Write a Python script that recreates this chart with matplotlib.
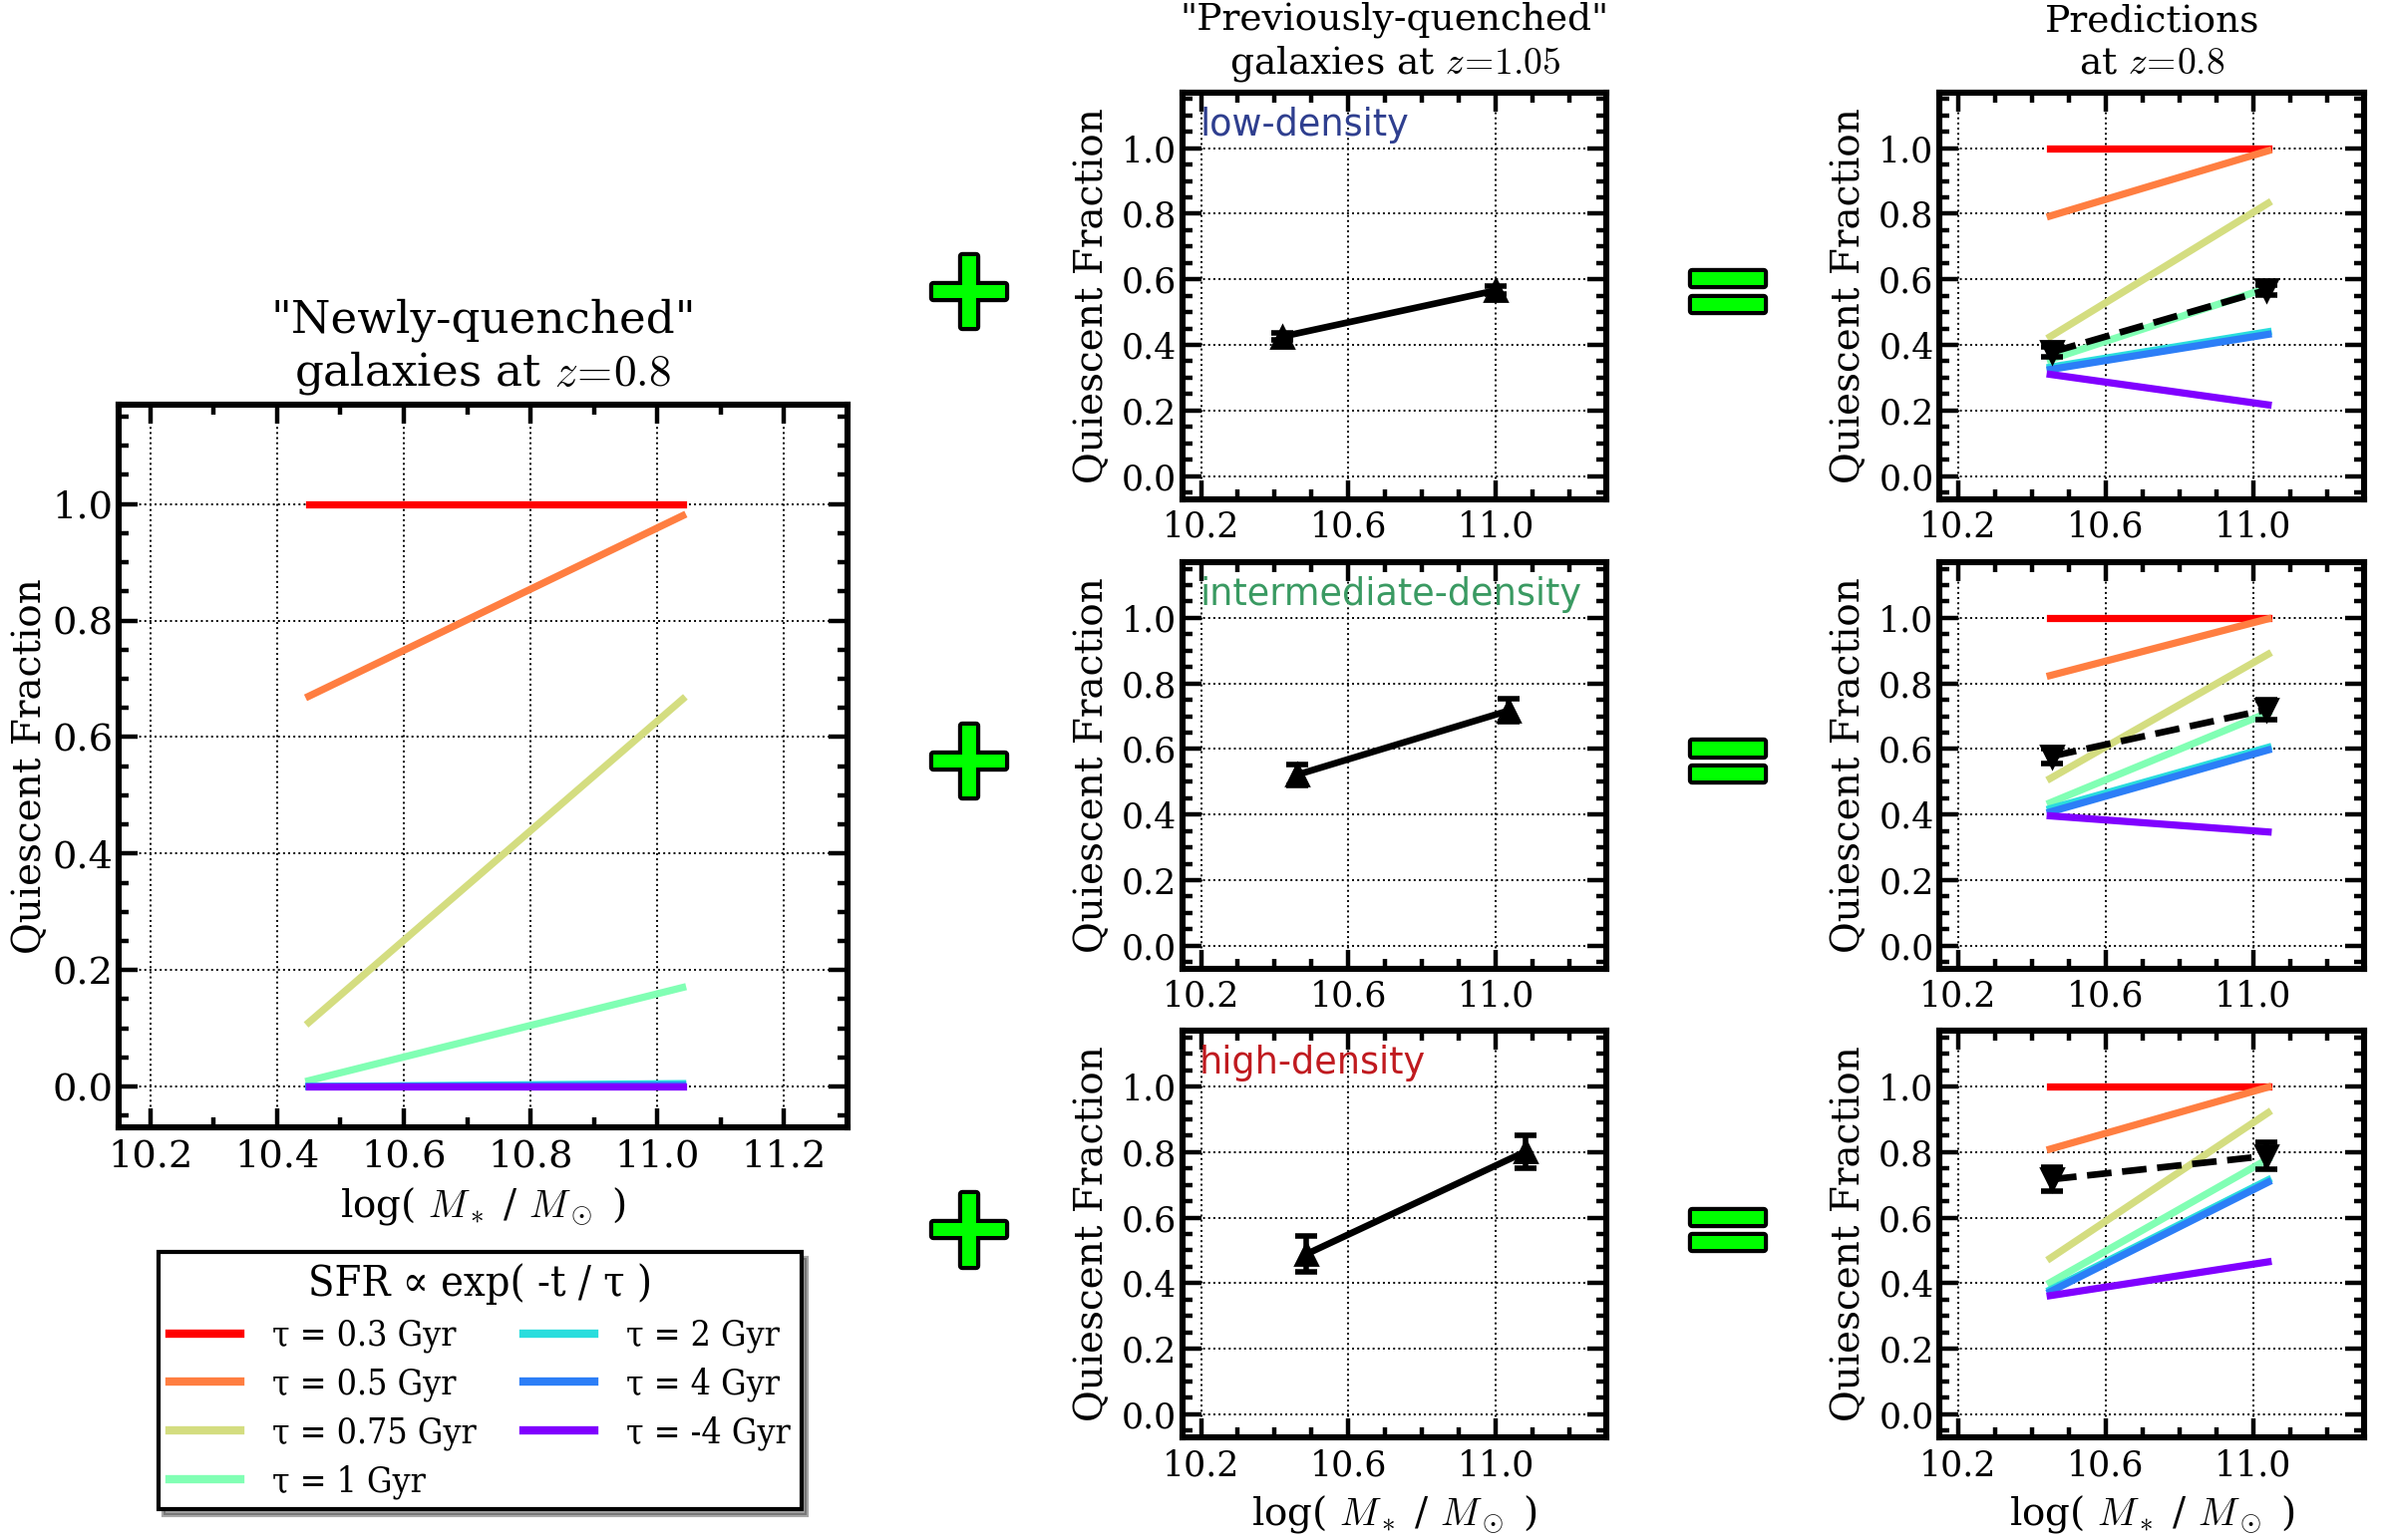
import matplotlib
matplotlib.use('Agg')
from matplotlib import pyplot as plt
from matplotlib.ticker import MultipleLocator
import matplotlib.patheffects as pe
import numpy as np

plt.rcParams['font.family'] = 'DejaVu Serif'
plt.rcParams['mathtext.fontset'] = 'cm'

# stellar mass positions of the model lines
mass = [10.45, 11.04]

taus = ['0.3', '0.5', '0.75', '1', '2', '4', '-4']

# "newly-quenched" fractions at z=0.8, one pair per tau
newq = [[1.0, 1.0], [0.67, 0.98], [0.11, 0.665], [0.01, 0.17],
        [0.0, 0.005], [0.0, 0.002], [0.0, 0.0]]

densities = ['low-density', 'intermediate-density', 'high-density']
dens_colors = ['#2f3f8f', '#3a9a62', '#c01a1f']

# "previously-quenched" galaxies at z=1.05
prev_x = [[10.42, 11.0], [10.46, 11.035], [10.485, 11.08]]
prev_y = [[0.425, 0.566], [0.521, 0.717], [0.488, 0.801]]
prev_err = [[0.01, 0.012], [0.033, 0.035], [0.055, 0.05]]

# predictions at z=0.8, per density and tau
pred = [
    [[1.0, 1.0], [0.793, 0.992], [0.425, 0.832], [0.355, 0.574],
     [0.332, 0.44], [0.325, 0.432], [0.31, 0.217]],
    [[1.0, 1.0], [0.824, 0.997], [0.51, 0.889], [0.436, 0.711],
     [0.418, 0.605], [0.408, 0.597], [0.396, 0.347]],
    [[1.0, 1.0], [0.809, 0.998], [0.476, 0.92], [0.402, 0.779],
     [0.38, 0.715], [0.374, 0.708], [0.362, 0.465]],
]
# observed quiescent fraction at z=0.8
obs_x = [10.455, 11.035]
obs_y = [[0.378, 0.567], [0.578, 0.72], [0.717, 0.788]]
obs_err = [[0.015, 0.015], [0.022, 0.03], [0.036, 0.041]]

colors = plt.cm.rainbow(np.linspace(1, 0, len(taus)))


def style(ax, xt, tsize, ylpad=4):
    ax.set_xlim(10.15, 11.3)
    ax.set_ylim(-0.07, 1.17)
    ax.set_xticks(xt)
    ax.set_xticklabels(['%.1f' % v for v in xt])
    ax.xaxis.set_minor_locator(MultipleLocator(0.1))
    ax.yaxis.set_major_locator(MultipleLocator(0.2))
    ax.yaxis.set_minor_locator(MultipleLocator(0.05))
    ax.tick_params(which='both', direction='in', top=True, right=True,
                   width=1.6, labelsize=tsize)
    ax.tick_params(which='major', length=7)
    ax.tick_params(which='minor', length=3.5)
    ax.tick_params(axis='y', pad=2)
    ax.tick_params(axis='x', pad=4)
    for s in ax.spines.values():
        s.set_linewidth(2.2)
    ax.grid(True, which='major', color='k', ls=':', lw=0.7)
    ax.set_ylabel('Quiescent Fraction', fontsize=14, labelpad=ylpad)


xlab = r'log( $M_*$ / $M_\odot$ )'

fig = plt.figure(figsize=(11.98, 7.725), dpi=200)

# left panel
ax0 = fig.add_axes([0.0497, 0.268, 0.305, 0.469])
style(ax0, [10.2, 10.4, 10.6, 10.8, 11.0, 11.2], 13.8, ylpad=1)
lines = []
for i in range(len(taus)):
    ln, = ax0.plot(mass, newq[i], color=colors[i], lw=2.6,
                   label='\u03c4 = ' + taus[i] + ' Gyr')
    lines.append(ln)
ax0.set_xlabel(xlab, fontsize=14)
ax0.set_title('"Newly-quenched"\ngalaxies at $z\\!=\\!0.8$', fontsize=16.3, pad=7)

rows_b = [0.676, 0.371, 0.0667]
for r in range(3):
    axm = fig.add_axes([0.495, rows_b[r], 0.1774, 0.264])
    style(axm, [10.2, 10.6, 11.0], 12.5)
    axm.errorbar(prev_x[r], prev_y[r], yerr=prev_err[r], color='k', lw=2.4,
                 marker='^', ms=8, capsize=4, capthick=2, elinewidth=2)
    axm.text(0.04, 0.92, densities[r], transform=axm.transAxes,
             color=dens_colors[r], fontsize=13.2, family='DejaVu Sans',
             va='center', ha='left')

    axr = fig.add_axes([0.8118, rows_b[r], 0.1778, 0.264])
    style(axr, [10.2, 10.6, 11.0], 12.5)
    for i in range(len(taus)):
        axr.plot(mass, pred[r][i], color=colors[i], lw=2.6)
    axr.errorbar(obs_x, obs_y[r], yerr=obs_err[r], color='k', lw=2.4, ls='--',
                 marker='v', ms=8, capsize=4, capthick=2, elinewidth=2)

    if r == 0:
        axm.set_title('"Previously-quenched"\ngalaxies at $z\\!=\\!1.05$',
                      fontsize=13.5, pad=7)
        axr.set_title('Predictions\nat $z\\!=\\!0.8$', fontsize=13.5, pad=7)
    if r == 2:
        axm.set_xlabel(xlab, fontsize=14)
        axr.set_xlabel(xlab, fontsize=14)

    yc = rows_b[r] + 0.132
    for xs, sym in [(0.4057, '+'), (0.7233, '=')]:
        fig.text(xs, yc, sym, fontsize=41, family='DejaVu Sans', weight='bold',
                 color='#00ff00', ha='center', va='center',
                 path_effects=[pe.withStroke(linewidth=3, foreground='k')])

leg = fig.legend(handles=lines, loc='upper left', bbox_to_anchor=(0.0663, 0.187),
                 borderaxespad=0, ncol=2,
                 prop={'family': 'DejaVu Serif', 'stretch': 'condensed', 'size': 12.8},
                 title='SFR \u221d exp( -t / \u03c4 )',
                 title_fontproperties={'family': 'DejaVu Serif', 'stretch': 'condensed', 'size': 15.5},
                 shadow=True, fancybox=False,
                 handlelength=2.0, handletextpad=0.9, columnspacing=1.35,
                 labelspacing=0.4, borderpad=0.3, framealpha=1)
leg.get_frame().set_edgecolor('k')
leg.get_frame().set_linewidth(1.5)
for h in leg.legend_handles:
    h.set_linewidth(3)

fig.savefig('out.png', dpi=200)
